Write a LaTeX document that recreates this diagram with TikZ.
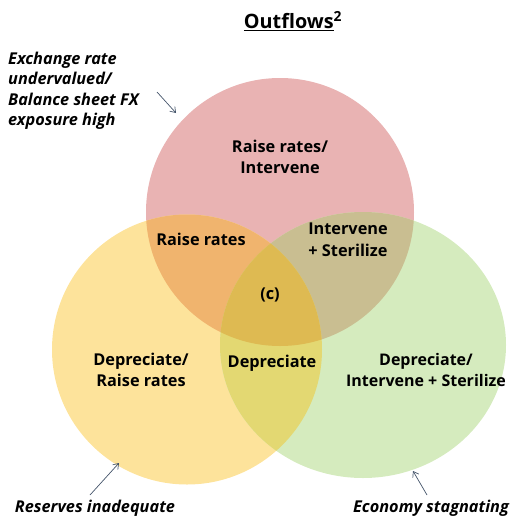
\documentclass[tikz,border=0pt]{standalone}
\usepackage{fontspec}
\setmainfont{Open Sans}
\usetikzlibrary{arrows.meta}
\definecolor{cR}{HTML}{E9B3B3}
\definecolor{cY}{HTML}{FDE39B}
\definecolor{cG}{HTML}{D5EBBE}
\definecolor{cRY}{HTML}{F0B46E}
\definecolor{cRG}{HTML}{C9BE91}
\definecolor{cYG}{HTML}{E3D872}
\definecolor{cRYG}{HTML}{DEBA52}
\definecolor{arr}{HTML}{44546A}
\tikzset{
  lbl/.style={font=\fontsize{16.3}{21.5}\selectfont\bfseries, align=center, inner sep=0pt},
  side/.style={font=\fontsize{16.3}{20.5}\selectfont\bfseries\itshape, inner sep=0pt},
  pointer/.style={draw=arr, line width=0.7pt, -{Straight Barb[length=5pt,width=7pt]}},
}
\begin{document}
\begin{tikzpicture}[x=1pt,y=-1pt]
\useasboundingbox (0,0) rectangle (513,520);
\def\redc{(280,212) circle [radius=134]}
\def\yelc{(187,349.5) circle [radius=135]}
\def\grnc{(363,345) ellipse [x radius=143, y radius=133]}
\fill[cR] \redc;
\fill[cY] \yelc;
\fill[cG] \grnc;
\begin{scope}\clip \redc; \fill[cRY] \yelc; \fill[cRG] \grnc; \end{scope}
\begin{scope}\clip \yelc; \fill[cYG] \grnc; \end{scope}
\begin{scope}\clip \redc; \clip \yelc; \fill[cRYG] \grnc; \end{scope}

\node[lbl, font=\fontsize{19.8}{22}\selectfont\bfseries] (title) at (293,21) {\underline{Outflows}\textsuperscript{2}};

\node[lbl] (r) at (280,157) {Raise rates/\\Intervene};
\node[lbl] (ry) at (201,239) {Raise rates};
\node[lbl] (rg) at (348,240) {Intervene\\+ Sterilize};
\node[lbl] (c) at (270,295) {(c)};
\node[lbl] (y) at (141,370) {Depreciate/\\Raise rates};
\node[lbl] (yg) at (272,363) {Depreciate};
\node[lbl, font=\fontsize{16}{21.5}\selectfont\bfseries] (g) at (426,370) {Depreciate/\\Intervene + Sterilize};

\node[side, align=left, anchor=west] (ex) at (8,91) {Exchange rate\\undervalued/\\Balance sheet FX\\exposure high};
\node[side, anchor=center] (res) at (95,508) {Reserves inadequate};
\node[side, anchor=center] (eco) at (431,508) {Economy stagnating};

\coordinate (a1s) at (157,92); \coordinate (a1e) at (176,113);
\coordinate (a2s) at (90,495); \coordinate (a2e) at (119,463);
\coordinate (a3s) at (427,495); \coordinate (a3e) at (413,471);
\draw[pointer] (a1s) -- (a1e);
\draw[pointer] (a2s) -- (a2e);
\draw[pointer] (a3s) -- (a3e);
\end{tikzpicture}
\end{document}
